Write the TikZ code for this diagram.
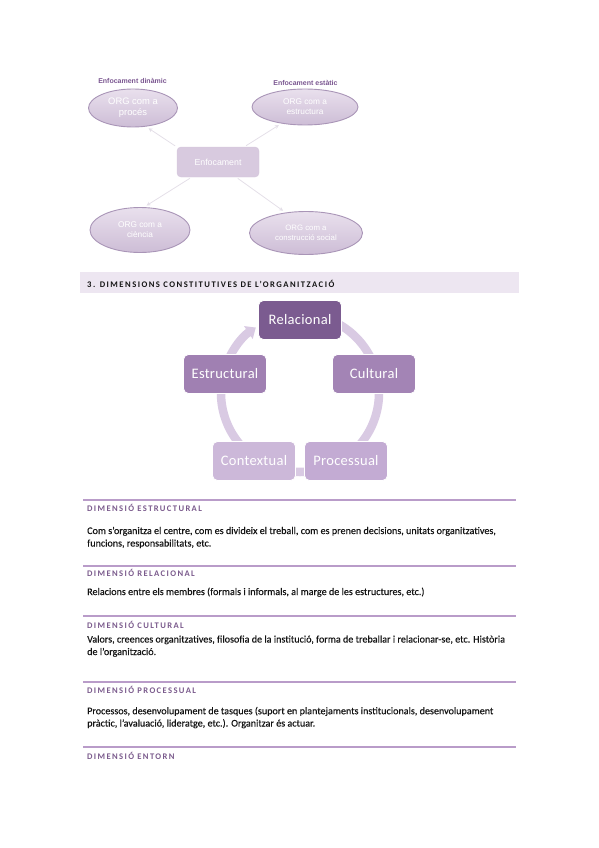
\documentclass[tikz,border=0pt]{standalone}
\usepackage{fontspec}
\setmainfont{Carlito}
\newfontfamily\arialf{Liberation Sans}
\newfontfamily\bodyf[FakeBold=0.4]{Carlito}
\usetikzlibrary{shapes.geometric,arrows.meta}
\definecolor{hdrbg}{HTML}{EDE6F1}
\definecolor{rulec}{HTML}{B99CC9}
\definecolor{headc}{HTML}{7A5A8C}
\definecolor{bodyc}{HTML}{141414}
\definecolor{relc}{HTML}{7B5B90}
\definecolor{culc}{HTML}{A384B5}
\definecolor{estc}{HTML}{A080B2}
\definecolor{proc}{HTML}{C3ABD3}
\definecolor{conc}{HTML}{CCB8D9}
\definecolor{ringc}{HTML}{D9CAE3}
\definecolor{elltop}{HTML}{E9E0ED}
\definecolor{ellbot}{HTML}{CDBDD6}
\definecolor{ellbd}{HTML}{A995B7}
\definecolor{enfc}{HTML}{D8CADF}
\definecolor{connc}{HTML}{E4DFE8}
\definecolor{labc}{HTML}{7A5690}
\tikzset{
  orgell/.style={ellipse, draw=ellbd, line width=0.9pt, top color=elltop, bottom color=ellbot,
    inner sep=0pt, text=white, align=center},
  enfbox/.style={rectangle, rounded corners=4pt, fill=enfc, draw=enfc!90!black!20!enfc,
    minimum width=82pt, minimum height=30pt, inner sep=0pt, text=white,
    font=\arialf\fontsize{8.8}{10}\selectfont},
  enflab/.style={text=labc, inner sep=0pt, font=\arialf\bfseries\fontsize{7}{8}\selectfont},
  conn/.style={draw=connc, line width=0.8pt, -{Stealth[length=4pt,width=4pt]}, shorten >=3pt, shorten <=2pt},
  cyc/.style={rectangle, rounded corners=5pt, draw=white, line width=0.8pt,
    minimum width=83pt, minimum height=39pt, inner sep=0pt, text=white,
    font=\fontsize{14.5}{16}\selectfont\addfontfeature{LetterSpace=2}},
  ring/.style={draw=ringc, line width=8.5pt},
  rulel/.style={draw=rulec, line width=1.3pt},
  dimhead/.style={anchor=base west, inner sep=0pt, text=headc,
    font=\bfseries\fontsize{8.6}{9}\selectfont\addfontfeature{LetterSpace=16}},
  body/.style={anchor=base west, inner sep=0pt, text=bodyc, font=\bodyf\fontsize{10.1}{12}\selectfont},
}
\begin{document}
\begin{tikzpicture}[x=1pt,y=1pt]
\useasboundingbox (0,0) rectangle (599,-848);
% ---- top diagram ----
\node[enflab] (lab1) at (132.5,-80.5) {Enfocament dinàmic};
\node[enflab] (lab2) at (305.5,-82.5) {Enfocament estàtic};
\node[orgell, minimum width=89pt, minimum height=38pt, font=\arialf\fontsize{9.4}{11}\selectfont] (e1) at (133,-108) {ORG com a\\procés};
\node[orgell, minimum width=106pt, minimum height=36pt, font=\arialf\fontsize{8.3}{10}\selectfont] (e2) at (305,-107) {ORG com a\\estructura};
\node[enfbox] (enf) at (218,-162) {Enfocament};
\node[orgell, minimum width=100pt, minimum height=45pt, font=\arialf\fontsize{8.3}{10}\selectfont] (e3) at (140,-230) {ORG com a\\ciència};
\node[orgell, minimum width=113pt, minimum height=43pt, font=\arialf\fontsize{7.8}{10}\selectfont] (e4) at (306,-233) {ORG com a\\construcció social};
\draw[conn] (enf.160) -- (e1.-55);
\draw[conn] (enf.30) -- (e2.-145);
\draw[conn] (enf.-150) -- (e3.80);
\draw[conn] (enf.-40) -- (e4.135);
% ---- header bar ----
\node[fill=hdrbg, minimum width=439pt, minimum height=21pt, inner sep=0pt, anchor=north west] (bar) at (80,-272) {};
\node[anchor=base west, inner sep=0pt, text=bodyc, font=\bfseries\fontsize{8.6}{9}\selectfont\addfontfeature{LetterSpace=17}] (bartxt) at (87,-287.4) {3. DIMENSIONS CONSTITUTIVES DE L’ORGANITZACIÓ};
% ---- cycle ----
\coordinate (cc) at (300,-393);
\draw[ring] ([shift={(90:79)}]cc) arc (90:18:79);
\draw[ring] ([shift={(18:79)}]cc) arc (18:-54:79);
\draw[ring] ([shift={(-54:79)}]cc) arc (-54:-126:79);
\draw[ring] ([shift={(-126:79)}]cc) arc (-126:-198:79);
\draw[ring, -{Triangle[width=15pt,length=9pt]}] ([shift={(162:79)}]cc) arc (162:124:79);
\node[cyc, fill=relc] (rel) at (300,-320) {Relacional};
\node[cyc, fill=culc] (cul) at (374,-374) {Cultural};
\node[cyc, fill=proc] (pro) at (346,-461) {Processual};
\node[cyc, fill=conc] (con) at (254,-461) {Contextual};
\node[cyc, fill=estc] (est) at (225,-374) {Estructural};
% ---- dimension sections ----
\draw[rulel] (83,-500) -- (516,-500);
\node[dimhead] (h1) at (87,-511.6) {DIMENSIÓ ESTRUCTURAL};
\node[body] (b1a) at (87,-534) {Com s’organitza el centre, com es divideix el treball, com es prenen decisions, unitats organitzatives,};
\node[body] (b1b) at (87,-546.5) {funcions, responsabilitats, etc.};
\draw[rulel] (83,-566) -- (516,-566);
\node[dimhead] (h2) at (87,-576.9) {DIMENSIÓ RELACIONAL};
\node[body] (b2a) at (87,-595) {Relacions entre els membres (formals i informals, al marge de les estructures, etc.)};
\draw[rulel] (83,-616) -- (516,-616);
\node[dimhead] (h3) at (87,-628.3) {DIMENSIÓ CULTURAL};
\node[body] (b3a) at (87,-642.5) {Valors, creences organitzatives, filosofia de la institució, forma de treballar i relacionar-se, etc. Història};
\node[body] (b3b) at (87,-655) {de l’organització.};
\draw[rulel] (83,-682) -- (516,-682);
\node[dimhead] (h4) at (87,-693.6) {DIMENSIÓ PROCESSUAL};
\node[body] (b4a) at (87,-714.2) {Processos, desenvolupament de tasques (suport en plantejaments institucionals, desenvolupament};
\node[body] (b4b) at (87,-726.5) {pràctic, l’avaluació, lideratge, etc.). Organitzar és actuar.};
\draw[rulel] (83,-747) -- (516,-747);
\node[dimhead] (h5) at (87,-759.9) {DIMENSIÓ ENTORN};
\end{tikzpicture}
\end{document}
